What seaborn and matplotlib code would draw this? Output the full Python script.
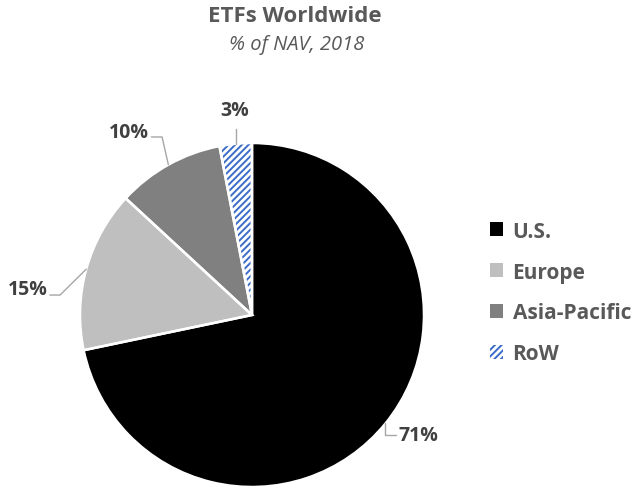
import numpy as np
import seaborn as sns
import matplotlib.pyplot as plt

# Data
regions = ["U.S.", "Europe", "Asia-Pacific", "RoW"]
shares = [71, 15, 10, 3]
share_labels = ["71%", "15%", "10%", "3%"]

# label layout (data units, pie radius = 1): text position and elbow of leader line
label_pos = [(0.85, -0.70), (-1.19, 0.15), (-0.60, 1.065), (-0.10, 1.19)]
label_ha = ["left", "right", "right", "center"]
elbows = [None, (-1.116, 0.116), (-0.523, 1.035), None]

sns.set_theme(style="white")
plt.rcParams["font.family"] = ["Open Sans", "DejaVu Sans"]
plt.rcParams["hatch.linewidth"] = 1.4

colors = ["#000000", "#bfbfbf", "#808080", "white"]

fig = plt.figure(figsize=(6.4, 4.89), dpi=100)
ax = fig.add_axes([80 / 640, 1 / 489, 344 / 640, 344 / 489])

wedges, _ = ax.pie(shares, colors=colors, startangle=90, counterclock=False,
                   radius=1, wedgeprops=dict(linewidth=0))
wedges[3].set_hatch("/////")
wedges[3].set_edgecolor("#3a6cc8")

# white separators on top
ax.pie(shares, colors=["none"] * 4, startangle=90, counterclock=False, radius=1,
       wedgeprops=dict(linewidth=1.8, edgecolor="white", fill=False))

# leader lines + labels
for w, lab, pos, ha, elb in zip(wedges, share_labels, label_pos, label_ha, elbows):
    mid = np.deg2rad((w.theta1 + w.theta2) / 2)
    anchor = (np.cos(mid), np.sin(mid))
    if ha == "left":
        pts = [anchor, (anchor[0], pos[1]), (pos[0] - 0.01, pos[1])]
    elif ha == "right":
        pts = [anchor, elb, (pos[0] + 0.015, elb[1])]
    else:
        pts = [anchor, (anchor[0], pos[1] - 0.11)]
    xs, ys = zip(*pts)
    ax.plot(xs, ys, color="#a6a6a6", lw=1, clip_on=False)
    ax.text(pos[0], pos[1], lab, ha=ha, va="center",
            fontsize=14, fontweight="bold", color="#404040", clip_on=False)

ax.set_xlim(-1, 1)
ax.set_ylim(-1, 1)
ax.axis("off")

fig.text(0.461, 1 - 17 / 489, "ETFs Worldwide", ha="center", va="center",
         fontsize=16, fontweight="bold", color="#595959")
fig.text(0.463, 1 - 45 / 489, "% of NAV, 2018", ha="center", va="center",
         fontsize=14.5, fontstyle="italic", color="#595959")

leg = fig.legend(wedges, regions, loc="center left", bbox_to_anchor=(0.752, 0.40),
                 frameon=False, handlelength=0.65, handleheight=0.65, handletextpad=0.45,
                 labelspacing=0.95, fontsize=15, borderaxespad=0)
for t in leg.get_texts():
    t.set_fontweight("bold")
    t.set_color("#595959")

fig.savefig("out.png", dpi=100)
